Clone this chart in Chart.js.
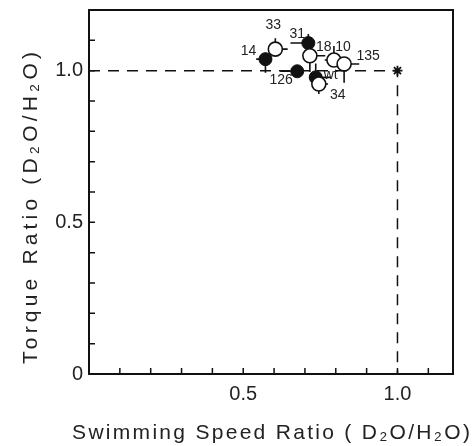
<!DOCTYPE html>
<html>
<head>
<meta charset="utf-8">
<script src="https://cdn.jsdelivr.net/npm/chart.js@4/dist/chart.umd.min.js"></script>
<style>
  html, body { margin: 0; padding: 0; background: #ffffff; }
  #wrap { width: 476px; height: 446px; position: relative; }
</style>
</head>
<body>
<div id="wrap"><canvas id="c" width="476" height="446"></canvas></div>
<script>
// ---- data ----
const strainLabels = ['14', '33', '31', '18', '10', '135', '126', 'wt', '34'];
const speedRatio   = [0.572, 0.604, 0.711, 0.716, 0.794, 0.827, 0.675, 0.735, 0.745];
const torqueRatio  = [1.038, 1.071, 1.091, 1.049, 1.035, 1.022, 0.998, 0.978, 0.956];
const isFilled     = [true, false, true, false, false, false, true, true, false];
const xErrMinus    = [0.030, 0.000, 0.058, 0.000, 0.030, 0.000, 0.055, 0.020, 0.000];
const xErrPlus     = [0.000, 0.040, 0.000, 0.050, 0.000, 0.049, 0.000, 0.050, 0.030];
const yErrMinus    = [0.045, 0.000, 0.000, 0.053, 0.000, 0.062, 0.000, 0.000, 0.033];
const yErrPlus     = [0.000, 0.036, 0.030, 0.000, 0.046, 0.000, 0.000, 0.046, 0.000];
const refPath      = [{x: 0, y: 1.0}, {x: 1.0, y: 1.0}, {x: 1.0, y: 0}];
const refPoint     = [{x: 1.0, y: 1.0}];
const minorTicks   = [0.1, 0.2, 0.3, 0.4, 0.5, 0.6, 0.7, 0.8, 0.9, 1.0, 1.1];
const xTickLabels  = ['0.5', '1.0'];
const yTickLabels  = ['0', '0.5', '1.0'];
const xTitle = 'Swimming Speed Ratio ( D\u2082O/H\u2082O)';
const yTitle = 'Torque Ratio (D\u2082O/H\u2082O)';

// ---- label offsets (pixels) ----
const labelOffsets = {
  '14': [-17, -8], '33': [-2, -24], '31': [-11, -9], '18': [14, -9], '10': [9, -13],
  '135': [24, -8], '126': [-16, 9], 'wt': [15, -2], '34': [19, 11]
};

const openPts = [], filledPts = [];
strainLabels.forEach((lab, i) => {
  const p = {x: speedRatio[i], y: torqueRatio[i], idx: i};
  (isFilled[i] ? filledPts : openPts).push(p);
});

const ink = '#111111';
const textInk = '#222222';
const FONT = '"Liberation Sans", Arial, sans-serif';

function fmtMatch(v, list) {
  for (const s of list) if (Math.abs(parseFloat(s) - v) < 1e-6) return s;
  return '';
}

function spacedText(ctx, text, cx, cy, targetWidth) {
  ctx.letterSpacing = '0px';
  const w = ctx.measureText(text).width;
  const n = [...text].length;
  const sp = Math.max(0, (targetWidth - w) / n);
  ctx.letterSpacing = sp.toFixed(2) + 'px';
  ctx.fillText(text, cx + sp / 2, cy);
  ctx.letterSpacing = '0px';
}

const framePlugin = {
  id: 'frame',
  beforeDatasetsDraw(chart) {
    const {ctx, chartArea: a, scales: {x, y}} = chart;
    ctx.save();
    ctx.strokeStyle = ink; ctx.lineWidth = 1.5;
    ctx.beginPath();
    minorTicks.forEach(v => {
      const px = x.getPixelForValue(v);
      ctx.moveTo(px, a.bottom); ctx.lineTo(px, a.bottom - 6);
      const py = y.getPixelForValue(v);
      ctx.moveTo(a.left, py); ctx.lineTo(a.left + 6, py);
    });
    ctx.stroke();
    ctx.lineWidth = 1.6;
    ctx.beginPath();
    strainLabels.forEach((lab, i) => {
      const cx = x.getPixelForValue(speedRatio[i]);
      const cy = y.getPixelForValue(torqueRatio[i]);
      if (xErrMinus[i]) { ctx.moveTo(cx, cy); ctx.lineTo(x.getPixelForValue(speedRatio[i] - xErrMinus[i]), cy); }
      if (xErrPlus[i])  { ctx.moveTo(cx, cy); ctx.lineTo(x.getPixelForValue(speedRatio[i] + xErrPlus[i]), cy); }
      if (yErrMinus[i]) { ctx.moveTo(cx, cy); ctx.lineTo(cx, y.getPixelForValue(torqueRatio[i] - yErrMinus[i])); }
      if (yErrPlus[i])  { ctx.moveTo(cx, cy); ctx.lineTo(cx, y.getPixelForValue(torqueRatio[i] + yErrPlus[i])); }
    });
    ctx.stroke();
    ctx.restore();
  },
  afterDatasetsDraw(chart) {
    const {ctx, chartArea: a, scales: {x, y}} = chart;
    ctx.save();
    ctx.strokeStyle = ink; ctx.lineWidth = 2;
    ctx.strokeRect(a.left, a.top, a.right - a.left, a.bottom - a.top);
    ctx.fillStyle = textInk;
    ctx.font = '14px ' + FONT;
    ctx.textAlign = 'center'; ctx.textBaseline = 'middle';
    strainLabels.forEach((lab, i) => {
      const cx = x.getPixelForValue(speedRatio[i]);
      const cy = y.getPixelForValue(torqueRatio[i]);
      const o = labelOffsets[lab];
      ctx.fillText(lab, cx + o[0], cy + o[1]);
    });
    ctx.font = '21px ' + FONT;
    ctx.textBaseline = 'alphabetic';
    spacedText(ctx, xTitle, (a.left + a.right) / 2, 439, 400);
    ctx.translate(37, 208);
    ctx.rotate(-Math.PI / 2);
    spacedText(ctx, yTitle, 0, 0, 316);
    ctx.restore();
  }
};

new Chart(document.getElementById('c'), {
  type: 'scatter',
  data: {
    datasets: [
      {
        type: 'line', data: refPath, borderColor: ink, borderWidth: 1.5,
        borderDash: [11, 8], pointRadius: 0, fill: false, tension: 0
      },
      {
        data: refPoint, pointStyle: 'star', pointRadius: 5, borderColor: ink,
        borderWidth: 1.8, backgroundColor: ink
      },
      {
        data: openPts, pointStyle: 'circle', pointRadius: 7, borderColor: ink,
        borderWidth: 1.6, backgroundColor: '#ffffff'
      },
      {
        data: filledPts, pointStyle: 'circle', pointRadius: 6.5, borderColor: ink,
        borderWidth: 1, backgroundColor: ink
      }
    ]
  },
  options: {
    responsive: false,
    animation: false,
    events: [],
    layout: { padding: { top: 10, right: 23, left: 0, bottom: 0 } },
    plugins: { legend: { display: false }, tooltip: { enabled: false } },
    scales: {
      x: {
        type: 'linear', min: 0, max: 1.18,
        grid: { display: false, drawTicks: false },
        border: { display: false },
        afterFit(s) { s.height = 72; s.paddingLeft = 0; s.paddingRight = 0; },
        ticks: {
          stepSize: 0.1, autoSkip: false, maxRotation: 0, padding: 8,
          color: textInk, font: { family: FONT, size: 20 },
          callback: v => fmtMatch(v, xTickLabels)
        },
        title: { display: false }
      },
      y: {
        type: 'linear', min: 0, max: 1.2,
        grid: { display: false, drawTicks: false },
        border: { display: false },
        afterFit(s) { s.width = 89; s.paddingTop = 0; s.paddingBottom = 0; },
        ticks: {
          stepSize: 0.1, autoSkip: false, padding: 6,
          color: textInk, font: { family: FONT, size: 20 },
          callback: v => fmtMatch(v, yTickLabels)
        },
        title: { display: false }
      }
    }
  },
  plugins: [framePlugin]
});
</script>
</body>
</html>
